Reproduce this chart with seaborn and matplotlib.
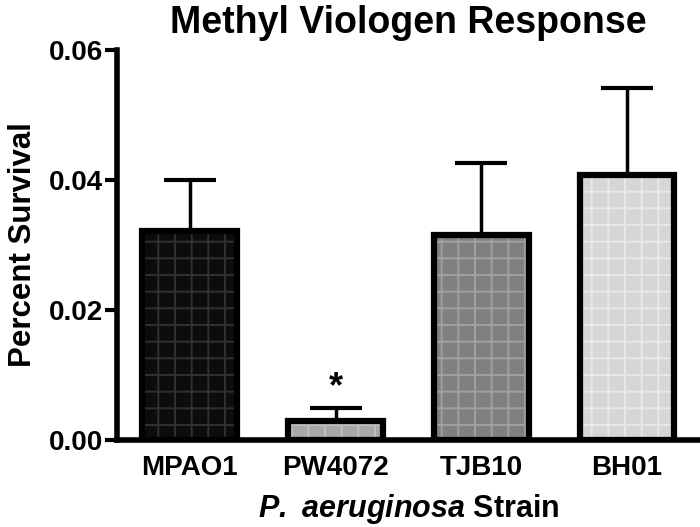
import matplotlib
matplotlib.use("Agg")
import numpy as np
import matplotlib.pyplot as plt
import seaborn as sns

# values
strains = ["MPAO1", "PW4072", "TJB10", "BH01"]
survival = [0.0322, 0.0030, 0.0316, 0.0408]
sem = [0.0078, 0.0019, 0.0111, 0.0134]
y_ticks = [0.00, 0.02, 0.04, 0.06]

face_colors = ["#0c0c0c", "#a9a9a9", "#808080", "#d6d6d6"]
hatch_colors = ["#303030", "#c0c0c0", "#a0a0a0", "#e8e8e8"]

sns.set_style("ticks")
plt.rcParams["font.family"] = ["Liberation Sans", "DejaVu Sans"]
plt.rcParams["font.weight"] = "bold"
plt.rcParams["text.color"] = "black"
plt.rcParams["axes.labelcolor"] = "black"
plt.rcParams["xtick.color"] = "black"
plt.rcParams["ytick.color"] = "black"
plt.rcParams["axes.edgecolor"] = "black"
plt.rcParams["hatch.linewidth"] = 1.4
plt.rcParams["mathtext.fontset"] = "custom"
plt.rcParams["mathtext.bfit"] = "Liberation Sans:italic:bold"

fig = plt.figure(figsize=(7, 5.27), dpi=100)
ax = fig.add_axes([0.167, 0.165, 0.833, 0.74])

bw = 0.65
sns.barplot(x=strains, y=survival, hue=strains, palette=face_colors, legend=False,
            width=bw, linewidth=0, saturation=1, ax=ax, zorder=2)
for patch, hc in zip(ax.patches, hatch_colors):
    patch.set_hatch("+")
    patch.set_edgecolor(hc)
    patch.set_linewidth(0)

# black outlines on top of the hatched fill
x = np.arange(len(strains))
ax.bar(x, survival, width=bw, fill=False, edgecolor="black", linewidth=4.5, zorder=3)

# upper error bars only
ax.errorbar(x, survival, yerr=[np.zeros(len(sem)), sem], fmt="none", ecolor="black",
            elinewidth=2.5, capsize=19, capthick=3, zorder=1)

ax.text(1, survival[1] + sem[1] + 0.0005, "*", ha="center", va="bottom",
        fontsize=26, fontweight="bold")

ax.set_xlim(-0.5, 3.5)
ax.set_ylim(0, 0.06)
ax.set_yticks(y_ticks)
ax.set_yticklabels([f"{t:.2f}" for t in y_ticks])
ax.tick_params(axis="y", length=9, width=3, pad=1, labelsize=20)
ax.tick_params(axis="x", length=0, pad=11, labelsize=20)

for s in ["top", "right"]:
    ax.spines[s].set_visible(False)
for s in ["left", "bottom"]:
    ax.spines[s].set_linewidth(4)

ax.set_title("Methyl Viologen Response", fontsize=27, fontweight="bold", pad=12)
ax.set_ylabel("Percent Survival", fontsize=22.5, fontweight="bold", labelpad=8)
ax.set_xlabel(r"$\bfit{P.}$ $\bfit{aeruginosa}$ Strain", fontsize=22, fontweight="bold", labelpad=8)

fig.savefig("out.png", dpi=100)
